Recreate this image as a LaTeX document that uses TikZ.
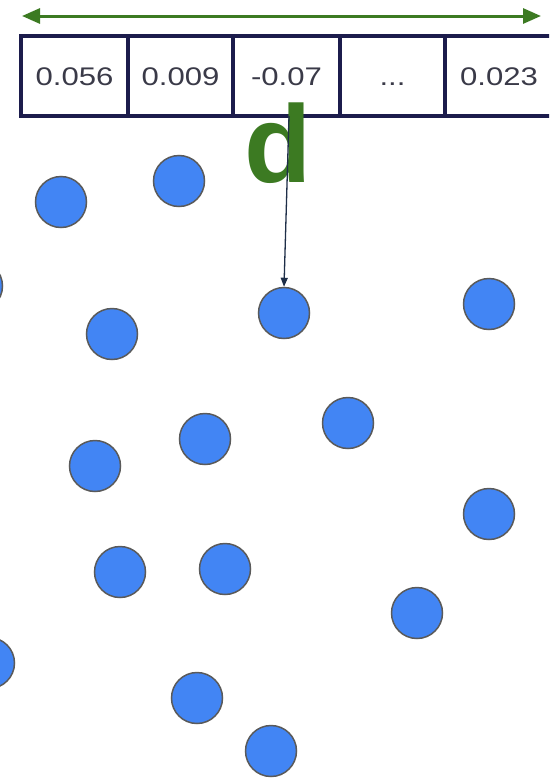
\documentclass[tikz,border=0pt]{standalone}
\usepackage{fontspec}
\setmainfont{Liberation Sans}[FakeStretch=1.22]
\newfontfamily\dfont{Liberation Sans}
\usetikzlibrary{arrows.meta}
\definecolor{dotblue}{HTML}{4285F4}
\definecolor{dotedge}{HTML}{5A5A5A}
\definecolor{barg}{HTML}{3C7A22}
\definecolor{cellline}{HTML}{1C1C4C}
\definecolor{numtxt}{HTML}{3A3A48}
\definecolor{ptr}{HTML}{1E2E48}
\tikzset{
  dot/.style={circle,fill=dotblue,draw=dotedge,line width=1.5pt,minimum size=51pt,inner sep=0pt},
  cell/.style={draw=cellline,line width=3.2pt,minimum height=80pt,inner sep=0pt,text height=18pt,text depth=0pt,text=numtxt,font=\fontsize{25.5}{25.5}\selectfont},
}
\begin{document}
\begin{tikzpicture}[x=1pt,y=-1pt]
\useasboundingbox (0,0) rectangle (549,779);
\clip (0,0) rectangle (549,779);
% dimension arrow
\coordinate (la) at (22,16);
\coordinate (ra) at (541,16);
\draw[barg,line width=3pt,{Triangle[length=18pt,width=15pt]}-{Triangle[length=18pt,width=15pt]}] (la) -- (ra);
% cells
\node[cell,minimum width=107pt] (c1) at (74.5,76) {0.056};
\node[cell,minimum width=105pt] (c2) at (180.5,76) {0.009};
\node[cell,minimum width=107pt] (c3) at (286.5,76) {-0.07};
\node[cell,minimum width=105pt] (c4) at (392.5,76) {...};
\node[cell,minimum width=108pt] (c5) at (499,76) {0.023};
% d label
\node[text=barg,font=\dfont\bfseries\fontsize{110}{110}\selectfont,inner sep=0pt,anchor=base] (dl) at (278,182) {d};
% dots
\node[dot] (p1) at (61,202) {};
\node[dot] (p2) at (179,181) {};
\node[dot] (p3) at (-23,286) {};
\node[dot] (p4) at (112,334) {};
\node[dot] (p5) at (284,313) {};
\node[dot] (p6) at (489,304) {};
\node[dot] (p7) at (205,439) {};
\node[dot] (p8) at (348,423) {};
\node[dot] (p9) at (95,466) {};
\node[dot] (p10) at (489,514) {};
\node[dot] (p11) at (120,572) {};
\node[dot] (p12) at (225,569) {};
\node[dot] (p13) at (417,613) {};
\node[dot] (p14) at (-11,663) {};
\node[dot] (p15) at (197,698) {};
\node[dot] (p16) at (271,751) {};
% pointer
\coordinate (ps) at (289,116);
\draw[ptr,line width=1.3pt,-{Triangle[length=9pt,width=7pt]}] (ps) -- (p5.north);
\end{tikzpicture}
\end{document}
